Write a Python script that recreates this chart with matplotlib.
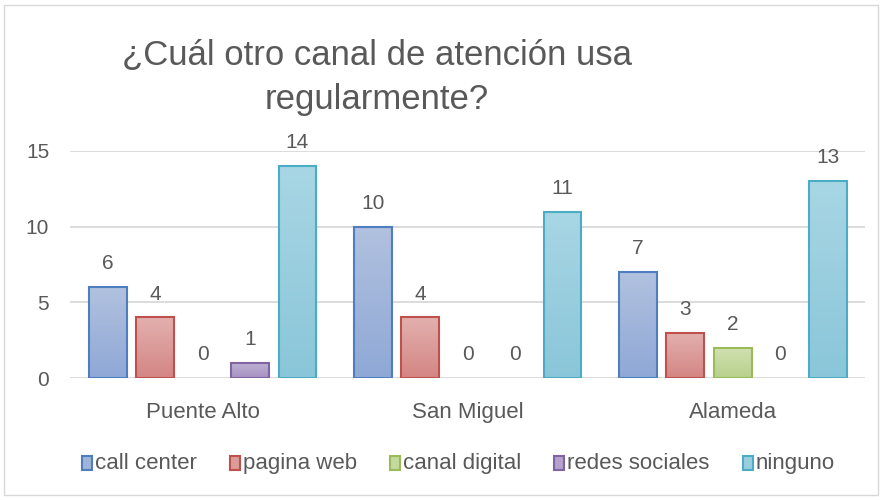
import matplotlib
matplotlib.use("Agg")
import matplotlib.pyplot as plt
import numpy as np
from matplotlib.patches import Rectangle
from matplotlib.colors import LinearSegmentedColormap

plt.rcParams['font.family'] = ['Liberation Sans', 'DejaVu Sans']

categories = ['Puente Alto', 'San Miguel', 'Alameda']
series = ['call center', 'pagina web', 'canal digital', 'redes sociales', 'ninguno']
values = [
    [6, 10, 7],
    [4, 4, 3],
    [0, 0, 2],
    [1, 0, 0],
    [14, 11, 13],
]
tops = ['#b1c1df', '#e2b0ae', '#d0e2b1', '#bfb2d5', '#a8d6e4']
bottoms = ['#8fa8d6', '#d48684', '#b8d08c', '#a692c1', '#8ac6d9']
mids = ['#a0b4da', '#db9b99', '#c4d99e', '#b3a2cb', '#99cede']
edges = ['#4f7ec0', '#c0504d', '#9bbb59', '#8064a2', '#4bacc6']

text_gray = '#595959'
W, H = 882, 500

fig = plt.figure(figsize=(8.82, 5), dpi=100)
fig.patches.append(Rectangle((0.005, 0.01), 0.99, 0.98, transform=fig.transFigure,
                             fill=False, edgecolor='#d9d9d9', linewidth=1))
ax = fig.add_axes([0.0794, 0.244, 0.9016, 0.454])

x = np.arange(len(categories))
step = 0.179
width = 0.143
grad = np.linspace(1, 0, 64).reshape(-1, 1)
for i, name in enumerate(series):
    pos = x + (i - 2) * step
    cmap = LinearSegmentedColormap.from_list(name, [bottoms[i], tops[i]])
    lw = [1.5 if v > 0 else 0 for v in values[i]]
    bars = ax.bar(pos, values[i], width, facecolor='none', edgecolor=edges[i],
                  linewidth=lw, zorder=4)
    for px, v in zip(pos, values[i]):
        if v > 0:
            ax.imshow(grad, extent=[px - width / 2, px + width / 2, 0, v], aspect='auto',
                      cmap=cmap, vmin=0, vmax=1, zorder=3, interpolation='bilinear')
        ax.text(px, v + 1.55, str(v), ha='center', va='center', fontsize=15,
                color=text_gray, clip_on=False)

ax.set_xlim(-0.5, 2.5)
ax.set_ylim(0, 15)
ax.set_yticks([0, 5, 10, 15])
ax.set_xticks(x)
ax.set_xticklabels(categories)
ax.yaxis.grid(True, color='#d9d9d9', linewidth=1.3, zorder=0)
ax.set_axisbelow(True)
for s in ax.spines.values():
    s.set_visible(False)
ax.tick_params(axis='both', length=0, labelsize=15, labelcolor=text_gray)
ax.tick_params(axis='x', pad=17, labelsize=16)
ax.tick_params(axis='y', pad=15)

fig.text(0.427, 0.845, '¿Cuál otro canal de atención usa\nregularmente?', ha='center',
         va='center', fontsize=25, color=text_gray, linespacing=1.4)

# legend drawn by hand so all labels share one baseline
renderer = fig.canvas.get_renderer()
lx = 82
ly = 463
for i, name in enumerate(series):
    fig.patches.append(Rectangle((lx / W, 1 - (ly + 7) / H), 10 / W, 14 / H,
                                 transform=fig.transFigure, facecolor=mids[i],
                                 edgecolor=edges[i], linewidth=1.5))
    t = fig.text((lx + 13) / W, 1 - (ly + 6) / H, name, fontsize=16, color=text_gray,
                 ha='left', va='baseline')
    tw = t.get_window_extent(renderer).width
    lx = lx + 13 + tw + 33

fig.savefig('out.png', dpi=100)
